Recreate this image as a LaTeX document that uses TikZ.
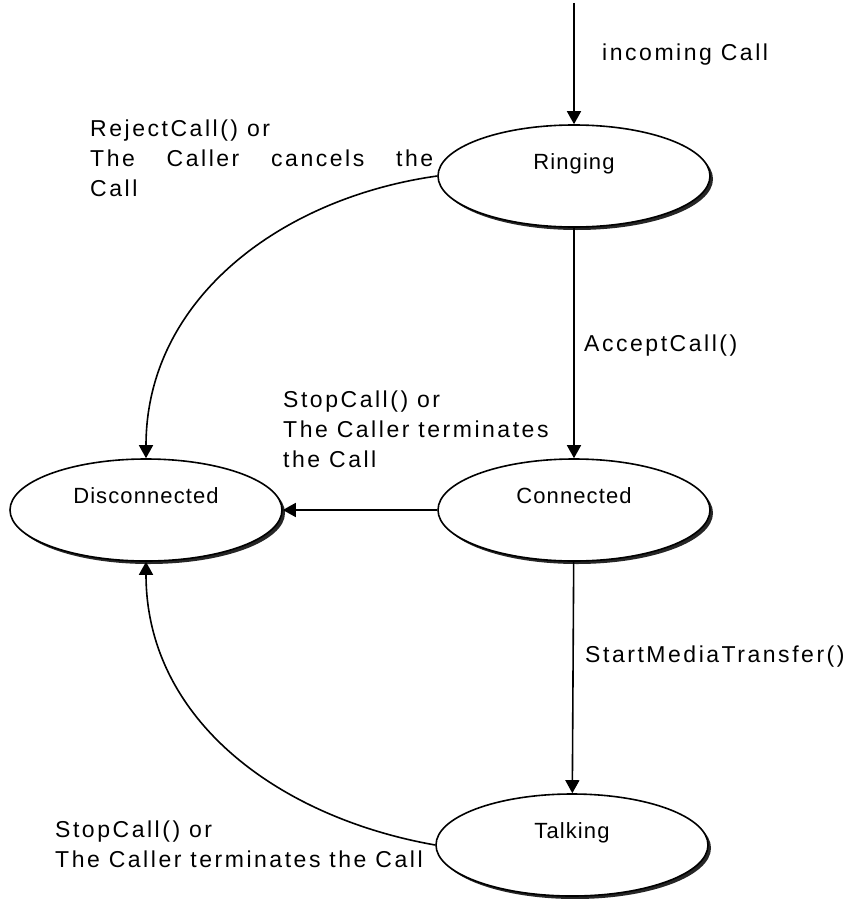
\documentclass[tikz,border=0pt]{standalone}
\usepackage{fontspec}
\setmainfont{Liberation Sans}
\newfontfamily\edgefont[LetterSpace=11]{Liberation Sans}
\newfontfamily\statefont[LetterSpace=5]{Liberation Sans}
\usetikzlibrary{shapes.geometric,shadows,arrows.meta}

\begin{document}
\begin{tikzpicture}[x=1pt,y=-1pt,
  state/.style={ellipse,draw,line width=1.6pt,fill=white,minimum width=272pt,minimum height=102pt,inner sep=0pt,
    drop shadow={shadow xshift=3pt,shadow yshift=-3pt,opacity=1,fill=black!85}},
  statetext/.style={yshift=12pt,text height=16pt,text depth=5pt,inner sep=0pt,font=\statefont\fontsize{22}{26}\selectfont},
  trans/.style={line width=1.6pt,-{Triangle[length=13pt,width=14pt]}},
  lbl/.style={anchor=base west,inner sep=0pt,align=left,font=\edgefont\fontsize{23}{30}\selectfont}]
\useasboundingbox (0,0) rectangle (854,899);

\node[state,label={[statetext]center:Ringing}] (ring) at (574,176) {};
\node[state,label={[statetext]center:Connected}] (conn) at (574,510) {};
\node[state,label={[statetext]center:Disconnected}] (disc) at (146,510) {};
\node[state,label={[statetext]center:Talking}] (talk) at (572,845) {};

\coordinate (start) at (574,3);
\draw[trans] (start) -- (ring);
\draw[trans] (ring.west) to[out=188,in=90] (disc.north);
\draw[trans] (ring) -- (conn);
\draw[trans] (conn) -- (disc);
\draw[trans] (conn) -- (talk);
\draw[trans] (talk.west) to[out=170,in=-90] (disc.south);

% multi-line labels: base is the last line
\node[lbl] (lincoming) at (602,60) {incoming Call};
\node[lbl] (lreject) at (90,196) {RejectCall() or\\\hbox to 343pt{The\hfill Caller\hfill cancels\hfill the}\\Call};
\node[lbl] (laccept) at (584,351) {AcceptCall()};
\node[lbl] (lstop) at (283,467) {StopCall() or\\The Caller terminates\\the Call};
\node[lbl] (lmedia) at (585,662) {StartMediaTransfer()};
\node[lbl] (lstoptalk) at (55,867) {StopCall() or\\The Caller terminates the Call};

\end{tikzpicture}
\end{document}
